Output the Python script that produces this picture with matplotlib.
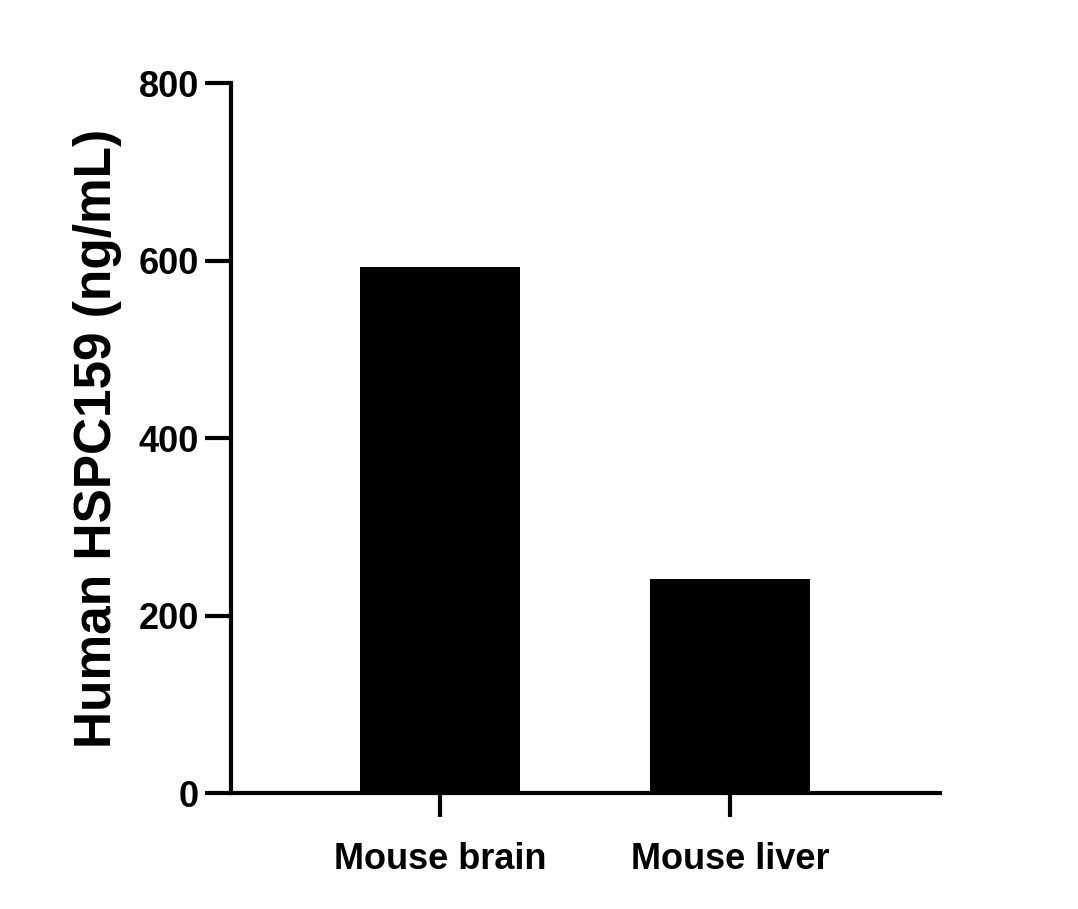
import matplotlib.pyplot as plt

plt.rcParams['font.family'] = ['Liberation Sans', 'DejaVu Sans']
plt.rcParams['font.weight'] = 'bold'

categories = ["Mouse brain", "Mouse liver"]
values = [593, 241]
y_ticks = [0, 200, 400, 600, 800]

fig = plt.figure(figsize=(10.78, 9.09), dpi=100)
ax = fig.add_axes([0.2143, 0.1276, 0.6577, 0.781])

ax.bar(range(len(categories)), values, width=0.552, color="black")

ax.set_xlim(-0.72, 1.724)
ax.set_ylim(0, 800)
ax.set_yticks(y_ticks)
ax.set_xticks(range(len(categories)))
ax.set_xticklabels(categories, fontsize=26, fontweight="bold")
ax.set_yticklabels([str(t) for t in y_ticks], fontsize=26, fontweight="bold")
ax.set_ylabel("Human HSPC159 (ng/mL)", fontsize=37, fontweight="bold", labelpad=12)

for side in ["top", "right"]:
    ax.spines[side].set_visible(False)
for side in ["left", "bottom"]:
    ax.spines[side].set_linewidth(3)
ax.tick_params(axis="y", length=19, width=3, pad=4)
ax.tick_params(axis="x", length=17, width=3, pad=18)

fig.savefig("out.png", dpi=100)
